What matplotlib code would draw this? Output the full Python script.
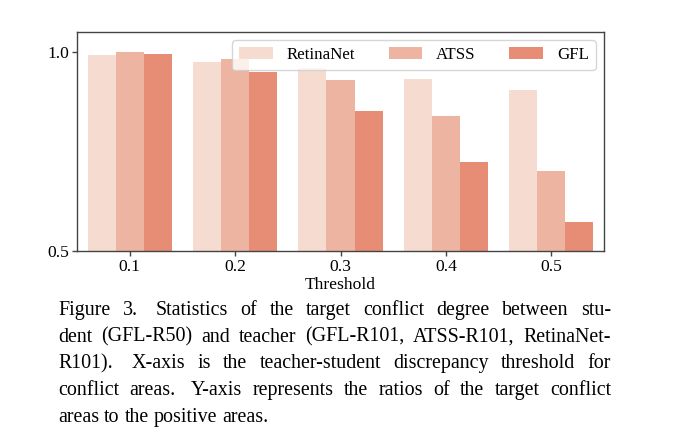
import matplotlib
matplotlib.use("Agg")
import matplotlib.pyplot as plt
import numpy as np

thresholds = ["0.1", "0.2", "0.3", "0.4", "0.5"]
models = ["RetinaNet", "ATSS", "GFL"]
retinanet = [0.992, 0.974, 0.960, 0.932, 0.904]
atss = [0.999, 0.982, 0.929, 0.839, 0.702]
gfl = [0.996, 0.949, 0.852, 0.724, 0.574]
colors = ["#F5DBD0", "#EDB5A1", "#E88D75"]

caption_lines = [
    "Figure 3.  Statistics of the target conflict degree between stu-",
    "dent (GFL-R50) and teacher (GFL-R101, ATSS-R101, RetinaNet-",
    "R101).  X-axis is the teacher-student discrepancy threshold for",
    "conflict areas.  Y-axis represents the ratios of the target conflict",
    "areas to the positive areas.",
]

plt.rcParams['font.family'] = ['Liberation Serif', 'DejaVu Serif']
W, H = 686, 445
fig = plt.figure(figsize=(W / 100, H / 100), dpi=100)
ax = fig.add_axes([77 / W, 1 - 251 / H, (604 - 77) / W, (251 - 32) / H])

x = np.arange(len(thresholds))
bw = 0.8 / 3
for i, (vals, c, name) in enumerate(zip([retinanet, atss, gfl], colors, models)):
    ax.bar(x + (i - 1) * bw, vals, width=bw, color=c, label=name, linewidth=0)

ax.set_xlim(-0.5, len(thresholds) - 0.5)
ax.set_ylim(0.5, 1.05)
ax.set_xticks(x)
ax.set_xticklabels(thresholds, fontsize=12.6)
ax.set_yticks([0.5, 1.0])
ax.set_yticklabels(["0.5", "1.0"], fontsize=12.6)
ax.set_xlabel("Threshold", fontsize=12.6, labelpad=2)
for s in ax.spines.values():
    s.set_color("#444444")
    s.set_linewidth(1.0)
ax.tick_params(axis="both", length=3.5, width=1.0, color="#444444", pad=2)
leg = ax.legend(ncol=3, loc="upper right", fontsize=12.2, framealpha=0.8,
                edgecolor="#cccccc", fancybox=True)

# justified caption
renderer = fig.canvas.get_renderer()
left_px, right_px = 58, 611
baselines = [315, 341.7, 368.4, 395.1, 421.8]
fs = 14.4
for li, (line, bl) in enumerate(zip(caption_lines, baselines)):
    words = line.replace("  ", " \u0000").split(" ")
    tokens = []
    for w in words:
        if w.startswith("\u0000"):
            tokens.append((w[1:], 1.5))
        else:
            tokens.append((w, 1.0))
    widths = []
    texts = []
    for w, _ in tokens:
        t = fig.text(0, 0, w, fontsize=fs, ha="left", va="baseline")
        widths.append(t.get_window_extent(renderer).width)
        texts.append(t)
    total_w = sum(widths)
    gap_weights = [tokens[k][1] for k in range(1, len(tokens))]
    last = li == len(caption_lines) - 1
    space_px = fs * 100 / 72 * 0.25
    if last:
        unit = space_px
    else:
        unit = (right_px - left_px - total_w) / sum(gap_weights)
    pos = left_px
    for k, t in enumerate(texts):
        if k > 0:
            pos += unit * gap_weights[k - 1]
        t.set_position((pos / W, 1 - bl / H))
        pos += widths[k]

fig.savefig("out.png", dpi=100)
